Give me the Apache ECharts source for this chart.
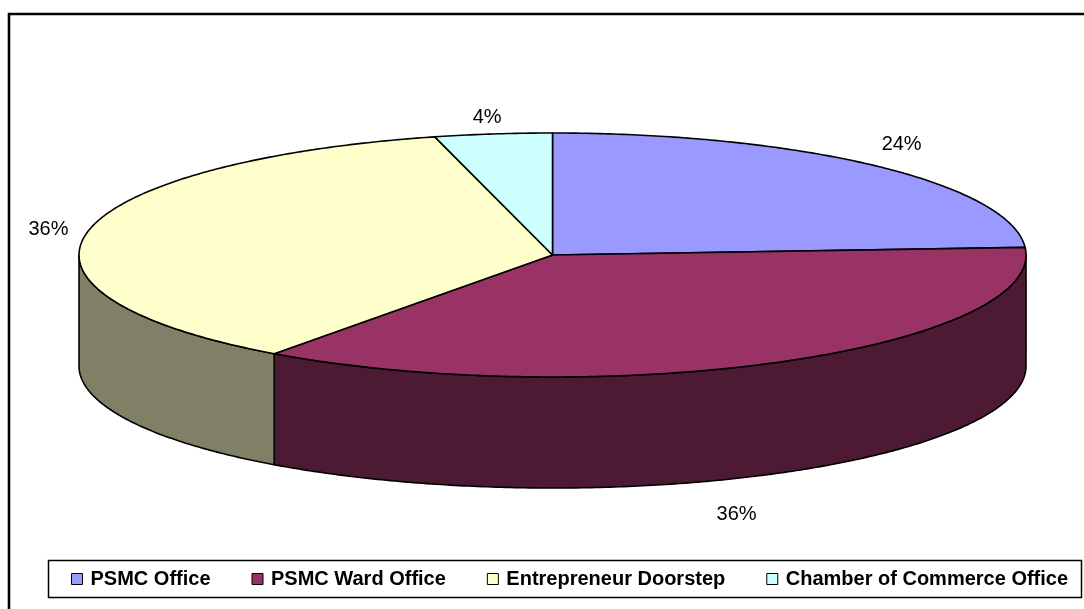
<!DOCTYPE html>
<html>
<head>
<meta charset="utf-8">
<script src="https://cdn.jsdelivr.net/npm/echarts@6/dist/echarts.min.js"></script>
<style>
  html, body { margin: 0; padding: 0; background: #ffffff; }
  #chart { width: 1084px; height: 609px; }
</style>
</head>
<body>
<div id="chart"></div>
<script>
// Where entrepreneurs were reached (share of respondents, %)
const categories = ['PSMC Office', 'PSMC Ward Office', 'Entrepreneur Doorstep', 'Chamber of Commerce Office'];
const shares = [24, 36, 36, 4];
const shareLabels = ['24%', '36%', '36%', '4%'];

// Slice colours: top face and the darker outer wall
const topColors = ['#9999FF', '#993366', '#FFFFCC', '#CCFFFF'];
const wallColors = ['#4D4D80', '#4D1A33', '#808066', '#668080'];

// Tilted-disc layout, as fractions of the canvas
const DISC = { cx: 0.5097, cy: 0.4187, rx: 0.4368, ry: 0.2003, depth: 0.1823 };
// Fine placement of each percentage label relative to its slice anchor (px)
const LABEL_NUDGE = [[25, -22], [-44, 42], [-39, -3], [-6, -16]];

const FONT = '"Liberation Sans", Arial, sans-serif';
const total = shares.reduce((a, b) => a + b, 0);

function renderSlice(params, api) {
  const W = api.getWidth(), H = api.getHeight();
  const cx = DISC.cx * W, cy = DISC.cy * H, rx = DISC.rx * W, ry = DISC.ry * H, depth = DISC.depth * H;
  const i = params.dataIndex;
  let before = 0;
  for (let k = 0; k < i; k++) before += shares[k];
  const a0 = before / total * Math.PI * 2;
  const a1 = (before + api.value(0)) / total * Math.PI * 2;

  const pt = (t, dy) => [cx + rx * Math.sin(t), cy - ry * Math.cos(t) + (dy || 0)];
  const arc = (from, to, dy) => {
    const n = Math.max(2, Math.ceil(Math.abs(to - from) / 0.01));
    const out = [];
    for (let s = 0; s <= n; s++) out.push(pt(from + (to - from) * s / n, dy));
    return out;
  };
  const lineStyle = { stroke: '#000000', lineWidth: 1.6, lineJoin: 'round' };
  const children = [];

  // Outer wall: only the front half of the disc (angles between 90° and 270°) shows
  const lo = Math.max(a0, Math.PI / 2), hi = Math.min(a1, Math.PI * 1.5);
  if (hi > lo) {
    const pts = arc(lo, hi, 0).concat(arc(hi, lo, depth));
    children.push({
      type: 'polygon', z2: 1,
      shape: { points: pts },
      style: Object.assign({ fill: wallColors[i] }, lineStyle)
    });
  }

  // Top face
  children.push({
    type: 'polygon', z2: 2,
    shape: { points: [[cx, cy]].concat(arc(a0, a1, 0)) },
    style: Object.assign({ fill: topColors[i] }, lineStyle)
  });

  // Percentage label
  const mid = (a0 + a1) / 2;
  const anchor = pt(mid, 0);
  const nudge = LABEL_NUDGE[i];
  const front = Math.cos(mid) < 0;
  children.push({
    type: 'text', z2: 3,
    style: {
      text: shareLabels[i],
      x: anchor[0] + nudge[0],
      y: anchor[1] + nudge[1] + (front ? depth : 0),
      fill: '#000000',
      font: '20px ' + FONT,
      align: 'center',
      verticalAlign: 'middle'
    }
  });
  return { type: 'group', children };
}

const chart = echarts.init(document.getElementById('chart'), null, { renderer: 'canvas' });
chart.setOption({
  backgroundColor: '#ffffff',
  animation: false,
  color: topColors,
  legend: {
    data: categories,
    left: 71,
    top: 568,
    padding: 0,
    itemWidth: 11,
    itemHeight: 11,
    itemGap: 41,
    icon: 'rect',
    itemStyle: { borderColor: '#000000', borderWidth: 1 },
    textStyle: { fontFamily: FONT, fontWeight: 'bold', fontSize: 20, color: '#000000', padding: [0, 0, 0, 3], lineHeight: 22 },
    selectedMode: false
  },
  graphic: [
    {
      type: 'rect', z: -1,
      shape: { x: 9, y: 14, width: 1090, height: 620 },
      style: { fill: 'none', stroke: '#000000', lineWidth: 2.6 }
    },
    {
      type: 'rect', z: -1,
      shape: { x: 48.5, y: 560.5, width: 1033, height: 37 },
      style: { fill: '#ffffff', stroke: '#000000', lineWidth: 1.5 }
    }
  ],
  series: [
    {
      // legend entries for the slices
      type: 'pie',
      radius: [0, 0],
      silent: true,
      label: { show: false },
      labelLine: { show: false },
      data: categories.map((name, k) => ({ name, value: shares[k] }))
    },
    {
      type: 'custom',
      coordinateSystem: 'none',
      silent: true,
      renderItem: renderSlice,
      data: shares.map(v => [v])
    }
  ]
});
</script>
</body>
</html>
